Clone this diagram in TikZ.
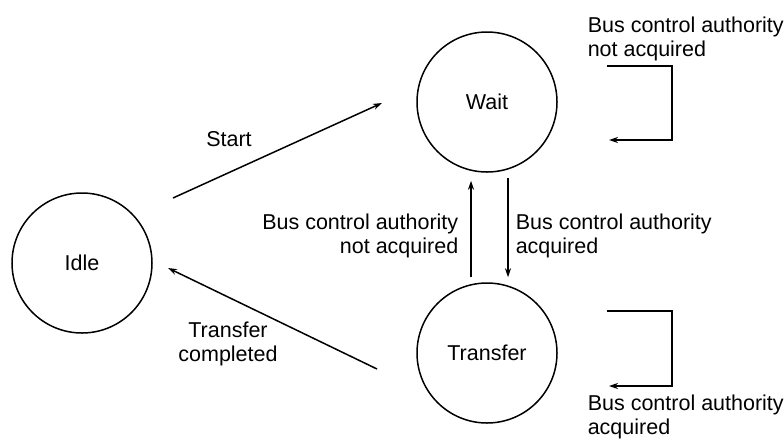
\documentclass[tikz,border=0pt]{standalone}
\usepackage{fontspec}
\setmainfont{Liberation Sans}
\usetikzlibrary{arrows.meta, positioning, calc}

\begin{document}
\begin{tikzpicture}[x=1pt, y=-1pt, line width=1.5pt,
    state/.style={circle, draw, minimum size=140pt, inner sep=0pt},
    lbl/.style={inner sep=0pt, font=\fontsize{21.5}{23.5}\selectfont},
    >={Stealth[length=9pt, width=6pt]}]
    \useasboundingbox (0,0) rectangle (784,440);

    % States
    \node[state, lbl] (idle) at (82,263) {Idle};
    \node[state, lbl] (wait) at (487,102) {Wait};
    \node[state, lbl] (transfer) at (487,353) {Transfer};

    % Arrow ends
    \coordinate (startA) at ($(idle)+(91,-65)$);
    \coordinate (startB) at ($(wait)+(-105,1)$);
    \coordinate (doneA) at ($(transfer)+(-110,16)$);
    \coordinate (doneB) at ($(idle)+(86,5)$);
    \coordinate (upA) at ($(transfer.north)+(-16,-5)$);
    \coordinate (upB) at ($(wait.south)+(-16,8)$);
    \coordinate (downA) at ($(wait.south)+(21,5)$);
    \coordinate (downB) at ($(transfer.north)+(21,-5)$);

    % Transitions
    \draw[->] (startA) -- (startB);
    \draw[->] (doneA) -- (doneB);
    \draw[->] (upA) -- (upB);
    \draw[->] (downA) -- (downB);

    % Self loops
    \draw[->] ($(wait)+(120,-36)$) -- ++(65,0) -- ++(0,74) -- ++(-63,0);
    \draw[->] ($(transfer)+(120,-42)$) -- ++(65,0) -- ++(0,75) -- ++(-63,0);

    % Labels
    \node[lbl] (lstart) at (229,139) {Start};
    \node[lbl, align=center] (ldone) at (228,344) {Transfer\\completed};
    \node[lbl, align=right, anchor=east] (lnot) at (459,236) {Bus control authority\\not acquired};
    \node[lbl, align=left, anchor=west] (lacq) at (515,236) {Bus control authority\\acquired};
    \node[lbl, align=left, anchor=west] (lnotloop) at (587,39) {Bus control authority\\not acquired};
    \node[lbl, align=left, anchor=west] (lacqloop) at (587,417) {Bus control authority\\acquired};
\end{tikzpicture}
\end{document}
